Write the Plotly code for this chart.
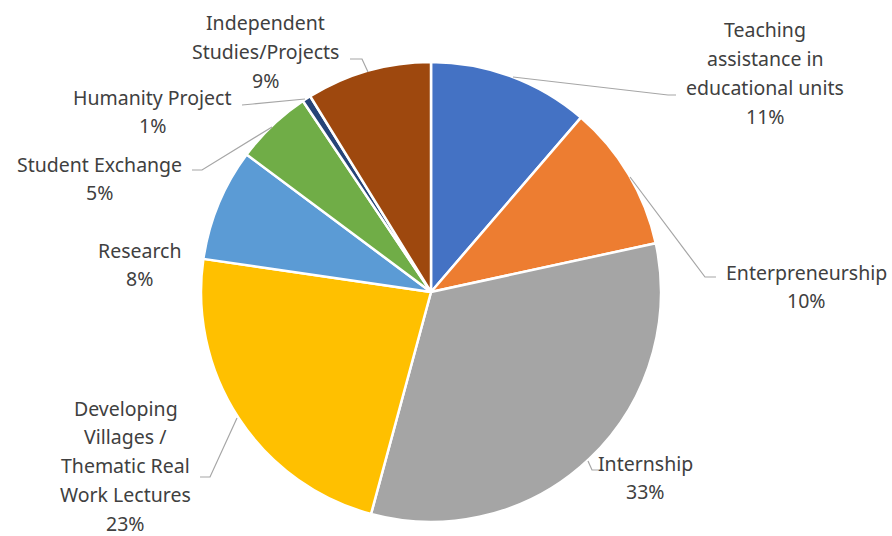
import plotly.graph_objects as go

# ---- data ----
categories = [
    "Teaching assistance in educational units",
    "Enterpreneurship",
    "Internship",
    "Developing Villages / Thematic Real Work Lectures",
    "Research",
    "Student Exchange",
    "Humanity Project",
    "Independent Studies/Projects",
]
values = [11.3, 10.3, 32.6, 23.1, 7.9, 5.4, 0.6, 8.8]
colors = ["#4472C4", "#ED7D31", "#A5A5A5", "#FFC000", "#5B9BD5", "#70AD47", "#264478", "#9E480E"]

# label text lines (as wrapped in the chart)
label_lines = [
    ["Teaching", "assistance in", "educational units"],
    ["Enterpreneurship"],
    ["Internship"],
    ["Developing", "Villages /", "Thematic Real", "Work Lectures"],
    ["Research"],
    ["Student Exchange"],
    ["Humanity Project"],
    ["Independent", "Studies/Projects"],
]

W, H = 892, 536
# label layout (pixel positions): center x, first-line y
label_pos = [(765, 30), (806, 272), (645, 463), (126, 408), (139, 250), (99, 164), (152, 97), (265, 23)]
LINE_H = 28.8

# leader lines (pixel polylines)
leaders = [
    [(513, 77), (668, 95), (676, 95)],
    [(630, 177), (705, 277), (716, 277)],
    [(588, 461), (592, 470), (603, 470)],
    [(237, 418), (210, 477), (200, 477)],
    None,
    [(272, 127), (202, 170), (192, 170)],
    [(305, 99), (253, 104), (242, 105)],
    [(368, 72), (362, 59), (350, 59)],
]

cx, cy, r = 431, 292, 230

fig = go.Figure(go.Pie(
    labels=categories,
    values=values,
    sort=False,
    direction="clockwise",
    rotation=0,
    textinfo="none",
    hoverinfo="label+percent",
    marker=dict(colors=colors, line=dict(color="white", width=2.5)),
    domain=dict(x=[(cx - r) / W, (cx + r) / W], y=[1 - (cy + r) / H, 1 - (cy - r) / H]),
    showlegend=False,
))

total = sum(values)
annotations = []
for i, lines in enumerate(label_lines):
    pct = f"{round(values[i] / total * 100)}%"
    all_lines = lines + [pct]
    x0, y0 = label_pos[i]
    for k, t in enumerate(all_lines):
        annotations.append(dict(
            x=x0 / W, y=1 - (y0 + k * LINE_H) / H, xref="paper", yref="paper",
            text=t, showarrow=False, xanchor="center", yanchor="middle", borderpad=0,
            font=dict(family="Noto Sans, sans-serif", size=19.5, color="#404040"),
        ))

shapes = []
for pts in leaders:
    if pts is None:
        continue
    path = "M " + " L ".join(f"{x / W:.5f},{1 - y / H:.5f}" for x, y in pts)
    shapes.append(dict(type="path", path=path, xref="paper", yref="paper",
                       line=dict(color="#A6A6A6", width=1.2)))

fig.update_layout(
    width=W, height=H,
    margin=dict(l=0, r=0, t=0, b=0),
    paper_bgcolor="white", plot_bgcolor="white",
    annotations=annotations,
    shapes=shapes,
)

fig.write_html("out.html")
